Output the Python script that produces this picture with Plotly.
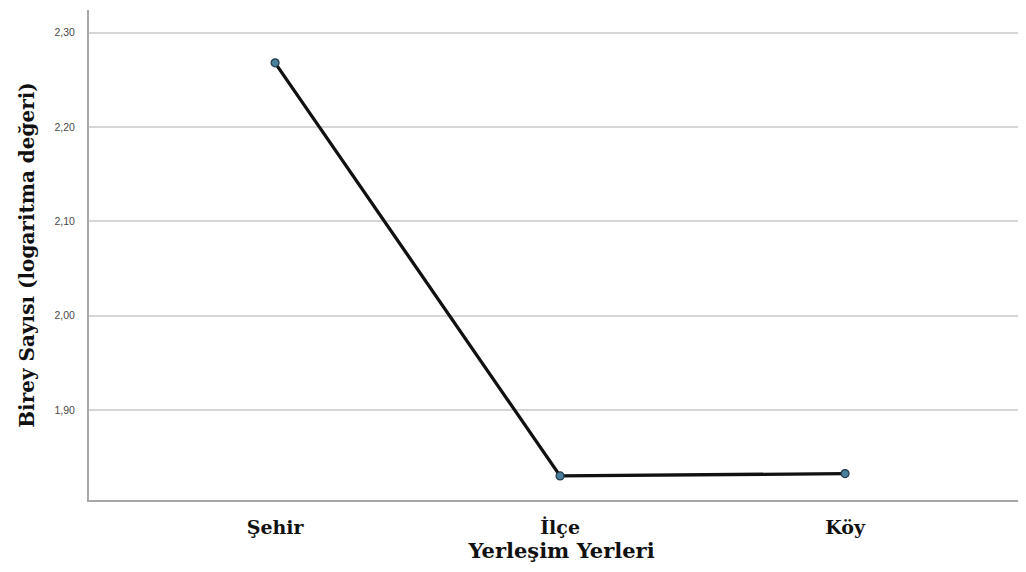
import plotly.graph_objects as go

categories = ["Şehir", "İlçe", "Köy"]
values = [2.268, 1.830, 1.8325]
y_ticks = [1.90, 2.00, 2.10, 2.20, 2.30]

fig = go.Figure()
fig.add_trace(go.Scatter(
    x=list(range(len(categories))), y=values, mode="lines+markers",
    line=dict(color="#111111", width=3.3),
    marker=dict(size=8, color="#4a7f9c", line=dict(color="#22394a", width=1.2)),
    showlegend=False, hoverinfo="skip",
))

fig.update_layout(
    width=1026, height=572,
    margin=dict(l=81, r=0, t=2, b=80),
    paper_bgcolor="white", plot_bgcolor="white",
    separators=",.",
    font=dict(family="DejaVu Serif", color="#111111"),
)
fig.update_xaxes(
    range=[-0.653, 2.663],
    tickmode="array", tickvals=list(range(len(categories))), ticktext=categories,
    tickfont=dict(family="DejaVu Serif", size=19, color="#111111", weight="bold"),
    showgrid=False, zeroline=False,
    showline=True, linecolor="#a8a8a8", linewidth=2,
    ticks="", ticklabelstandoff=9,
    title=dict(text="<b>Yerleşim Yerleri</b>", font=dict(family="DejaVu Serif", size=21, color="#111111"), standoff=1),
)
fig.update_yaxes(
    range=[1.8045, 2.324],
    tickmode="array", tickvals=y_ticks, tickformat=".2f",
    tickfont=dict(family="Liberation Sans", size=10.5, color="#4a4a4a"),
    showgrid=True, gridcolor="#d6d6d6", gridwidth=1.5,
    zeroline=False,
    showline=True, linecolor="#a8a8a8", linewidth=2,
    ticks="", ticklabelstandoff=10,
    title=dict(text="<b>Birey Sayısı (logaritma değeri)</b>", font=dict(family="DejaVu Serif", size=20, color="#111111"), standoff=14),
)

fig.write_html("out.html")
